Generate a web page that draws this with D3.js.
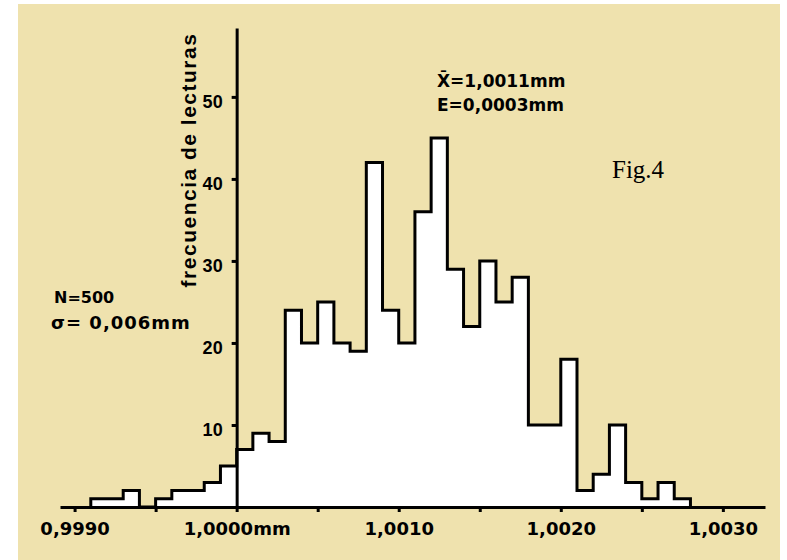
<!DOCTYPE html>
<html>
<head>
<meta charset="utf-8">
<script src="https://cdn.jsdelivr.net/npm/d3@7"></script>
<style>
    body { margin: 0; background: #fff; }
    svg { display: block; }
</style>
</head>
<body>
<div id="graph-container"></div>
<script>
// histogram data
const binStart = 0.9991;
const binWidth = 0.0001;
const counts = [1, 1, 2, 0, 1, 2, 2, 3, 5, 7, 9, 8, 24, 20, 25, 20, 19, 42, 24, 20,
    36, 45, 29, 22, 30, 25, 28, 10, 10, 18, 2, 4, 10, 3, 1, 3, 1];

const xTicks = [0.9990, 0.9995, 1.0000, 1.0005, 1.0010, 1.0015, 1.0020, 1.0025, 1.0030];
const xTickLabels = ['0,9990', '', '1,0000mm', '', '1,0010', '', '1,0020', '', '1,0030'];
const xAxisDomain = [0.99891, 1.00326];
const yTicks = [10, 20, 30, 40, 50];
const yMax = 58.4;
const yAxisAt = 1.0000;

const width = 787;
const height = 560;

const svg = d3.select('#graph-container')
    .append('svg')
    .attr('width', width)
    .attr('height', height);

// beige panel
svg.append('rect')
    .attr('x', 18)
    .attr('y', 4)
    .attr('width', 762)
    .attr('height', 556)
    .attr('fill', '#efe2ae');

// Scale
const xScale = d3.scaleLinear()
    .domain(xAxisDomain)
    .range([60, 765]);

const yScale = d3.scaleLinear()
    .domain([0, yMax])
    .range([507, 28]);

// step points of the histogram
const points = [];
counts.forEach((c, i) => {
    const x0 = binStart + i * binWidth;
    points.push({ x: x0, y: c });
    points.push({ x: x0 + binWidth, y: c });
});
const outline = [{ x: points[0].x, y: 0 }, ...points, { x: points[points.length - 1].x, y: 0 }];

const area = d3.area()
    .x((d) => xScale(d.x))
    .y0(yScale(0))
    .y1((d) => yScale(d.y));

svg.append('path')
    .attr('d', area(outline))
    .attr('fill', '#fff');

const line = d3.line()
    .x((d) => xScale(d.x))
    .y((d) => yScale(d.y));

svg.append('path')
    .attr('d', line(outline))
    .attr('fill', 'none')
    .attr('stroke', '#000')
    .attr('stroke-width', 3)
    .attr('stroke-linejoin', 'miter');

// X Axis
const xAxis = d3.axisBottom(xScale)
    .tickValues(xTicks)
    .tickSize(5)
    .tickSizeOuter(0)
    .tickPadding(10)
    .tickFormat((d, i) => xTickLabels[i]);

const gx = svg.append('g')
    .attr('transform', `translate(0,${yScale(0)})`)
    .call(xAxis);
gx.select('.domain').attr('stroke-width', 3);
gx.selectAll('.tick line').attr('stroke-width', 3);
gx.selectAll('.tick text')
    .attr('font-family', 'DejaVu Sans')
    .attr('font-weight', 'bold')
    .attr('font-size', 18)
    .attr('fill', '#000');

// Y Axis
const yAxis = d3.axisLeft(yScale)
    .tickValues(yTicks)
    .tickSize(5)
    .tickSizeOuter(0)
    .tickPadding(9);

const gy = svg.append('g')
    .attr('transform', `translate(${xScale(yAxisAt)},0)`)
    .call(yAxis);
gy.select('.domain').attr('stroke-width', 3);
gy.selectAll('.tick line').attr('stroke-width', 3);
gy.selectAll('.tick text')
    .attr('font-family', 'Liberation Sans')
    .attr('font-weight', 'bold')
    .attr('font-size', 18)
    .attr('dy', '0.6em')
    .attr('fill', '#000');

// y label
svg.append('text')
    .attr('transform', 'translate(196,160) rotate(-90)')
    .attr('text-anchor', 'middle')
    .attr('font-family', 'Liberation Sans')
    .attr('font-weight', 'bold')
    .attr('font-size', 21)
    .attr('letter-spacing', 1.5)
    .text('frecuencia de lecturas');

// annotations
const note = (x, y, size, txt, spacing) => svg.append('text')
    .attr('x', x)
    .attr('y', y)
    .attr('font-family', 'DejaVu Sans')
    .attr('font-weight', 'bold')
    .attr('font-size', size)
    .attr('letter-spacing', spacing || 0)
    .text(txt);

note(437, 87, 17, 'X\u0304=1,0011mm');
note(437, 111, 17, 'E=0,0003mm');
note(54, 303, 16, 'N=500');
note(51, 329, 18, 'σ= 0,006mm', 1);

svg.append('text')
    .attr('x', 612)
    .attr('y', 178)
    .attr('font-family', 'Liberation Serif')
    .attr('font-size', 25)
    .text('Fig.4');
</script>
</body>
</html>
